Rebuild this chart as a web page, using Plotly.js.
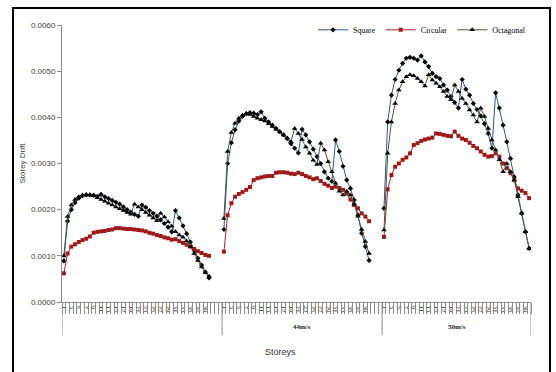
<!DOCTYPE html>
<html>
<head>
<meta charset="utf-8">
<script src="https://cdn.plot.ly/plotly-3.0.1.min.js"></script>
<style>
  html, body { margin: 0; padding: 0; background: #fff; }
  #chart { width: 556px; height: 372px; }
</style>
</head>
<body>
<div id="chart"></div>
<script>
// ---------- DATA ----------
const storeys = [1,2,3,4,5,6,7,8,9,10,11,12,13,14,15,16,17,18,19,20,21,22,23,24,25,26,27,28,29,30,31,32,33,34,35,36,37,38,39,40];
const groupLabels = ['', '44m/s', '50m/s'];
const seriesNames = ['Square', 'Circular', 'Octagonal'];

// group 1
const square1 = [0.00089,0.00175,0.00200,0.00215,0.00225,0.00230,0.00232,0.00232,0.00231,0.00229,0.00233,0.00228,0.00224,0.00220,0.00216,0.00212,0.00206,0.00200,0.00195,0.00190,0.00186,0.00210,0.00205,0.00198,0.00192,0.00186,0.00178,0.00170,0.00162,0.00152,0.00198,0.00182,0.00165,0.00148,0.00130,0.00112,0.00095,0.00080,0.00065,0.00052];
const circular1 = [0.00062,0.00105,0.00120,0.00125,0.00130,0.00134,0.00137,0.00142,0.00150,0.00152,0.00153,0.00154,0.00156,0.00157,0.00160,0.00160,0.00159,0.00158,0.00158,0.00157,0.00156,0.00155,0.00153,0.00150,0.00148,0.00145,0.00143,0.00140,0.00138,0.00135,0.00136,0.00132,0.00128,0.00124,0.00120,0.00115,0.00110,0.00106,0.00102,0.00100];
const octagonal1 = [0.00100,0.00185,0.00210,0.00222,0.00228,0.00232,0.00233,0.00232,0.00230,0.00226,0.00222,0.00218,0.00214,0.00210,0.00206,0.00202,0.00198,0.00194,0.00190,0.00212,0.00206,0.00200,0.00194,0.00188,0.00182,0.00176,0.00192,0.00184,0.00174,0.00164,0.00152,0.00145,0.00140,0.00132,0.00120,0.00105,0.00090,0.00076,0.00064,0.00056];

// group 2 (44m/s)
const square2 = [0.00157,0.00300,0.00345,0.00373,0.00392,0.00402,0.00408,0.00410,0.00409,0.00406,0.00412,0.00398,0.00390,0.00383,0.00376,0.00369,0.00362,0.00354,0.00343,0.00333,0.00323,0.00374,0.00362,0.00347,0.00331,0.00315,0.00300,0.00282,0.00268,0.00261,0.00351,0.00326,0.00294,0.00264,0.00246,0.00221,0.00188,0.00149,0.00120,0.00090];
const circular2 = [0.00109,0.00188,0.00214,0.00228,0.00234,0.00238,0.00243,0.00249,0.00264,0.00268,0.00270,0.00272,0.00273,0.00273,0.00280,0.00281,0.00281,0.00280,0.00278,0.00277,0.00280,0.00277,0.00273,0.00270,0.00266,0.00268,0.00262,0.00256,0.00252,0.00247,0.00250,0.00247,0.00243,0.00235,0.00222,0.00210,0.00203,0.00192,0.00185,0.00175];
const octagonal2 = [0.00181,0.00326,0.00367,0.00387,0.00398,0.00405,0.00408,0.00406,0.00402,0.00398,0.00395,0.00392,0.00386,0.00380,0.00374,0.00368,0.00362,0.00355,0.00347,0.00376,0.00365,0.00352,0.00336,0.00322,0.00307,0.00298,0.00344,0.00329,0.00304,0.00282,0.00257,0.00240,0.00232,0.00240,0.00232,0.00212,0.00186,0.00157,0.00131,0.00105];

// group 3 (50m/s)
const square3 = [0.00203,0.00390,0.00448,0.00482,0.00502,0.00517,0.00528,0.00530,0.00528,0.00524,0.00533,0.00520,0.00510,0.00495,0.00488,0.00484,0.00470,0.00459,0.00445,0.00432,0.00420,0.00482,0.00461,0.00448,0.00430,0.00417,0.00403,0.00386,0.00365,0.00333,0.00453,0.00420,0.00383,0.00347,0.00311,0.00271,0.00232,0.00192,0.00152,0.00116];
const circular3 = [0.00141,0.00244,0.00275,0.00293,0.00300,0.00308,0.00313,0.00322,0.00340,0.00344,0.00349,0.00352,0.00354,0.00356,0.00365,0.00364,0.00362,0.00360,0.00359,0.00369,0.00360,0.00354,0.00351,0.00345,0.00338,0.00333,0.00326,0.00319,0.00315,0.00316,0.00322,0.00315,0.00300,0.00290,0.00279,0.00264,0.00246,0.00241,0.00236,0.00225];
const octagonal3 = [0.00156,0.00322,0.00390,0.00430,0.00459,0.00477,0.00488,0.00492,0.00490,0.00484,0.00477,0.00468,0.00492,0.00481,0.00474,0.00466,0.00456,0.00445,0.00438,0.00470,0.00456,0.00441,0.00430,0.00416,0.00405,0.00390,0.00420,0.00402,0.00376,0.00351,0.00329,0.00308,0.00282,0.00300,0.00282,0.00264,0.00228,0.00192,0.00152,0.00116];

// ---------- LAYOUT HELPERS ----------
const slotsPerGroup = 43;           // 40 storeys + blank slots between groups
const lastGroupSlots = 40;
const groupOffsets = groupLabels.map((g, i) => i * slotsPerGroup);
const totalSlots = slotsPerGroup * (groupLabels.length - 1) + lastGroupSlots;
const xRange = [-0.5, totalSlots - 0.5];

function buildXY(groups) {
  const xs = [], ys = [];
  groups.forEach((vals, gi) => {
    storeys.forEach((s, si) => { xs.push(groupOffsets[gi] + s - 1); ys.push(vals[si]); });
    xs.push(null); ys.push(null);
  });
  return {x: xs, y: ys};
}

const sq = buildXY([square1, square2, square3]);
const ci = buildXY([circular1, circular2, circular3]);
const oc = buildXY([octagonal1, octagonal2, octagonal3]);

const traces = [
  {x: sq.x, y: sq.y, name: seriesNames[0], type: 'scatter', mode: 'lines+markers', connectgaps: false,
   line: {color: '#2f5597', width: 1}, marker: {symbol: 'diamond', size: 4, color: '#000'}},
  {x: ci.x, y: ci.y, name: seriesNames[1], type: 'scatter', mode: 'lines+markers', connectgaps: false,
   line: {color: '#b22222', width: 1}, marker: {symbol: 'square', size: 4, color: '#9c1a1a'}},
  {x: oc.x, y: oc.y, name: seriesNames[2], type: 'scatter', mode: 'lines+markers', connectgaps: false,
   line: {color: '#4b5a3a', width: 1}, marker: {symbol: 'triangle-up', size: 5, color: '#000'}},
  // empty helper trace so the overlay axis carrying the category-boundary ticks is drawn
  {x: [], y: [], xaxis: 'x2', yaxis: 'y', type: 'scatter', mode: 'markers', showlegend: false, hoverinfo: 'skip'}
];

// tick labels (every other storey)
const tickvals = [], ticktext = [];
groupOffsets.forEach(off => {
  storeys.forEach(s => { if (s % 2 === 1) { tickvals.push(off + s - 1); ticktext.push(String(s)); } });
});
const boundaries = [];
for (let i = 0; i <= totalSlots; i++) boundaries.push(i - 0.5);

const groupEdges = groupOffsets.map(o => o - 0.5).concat([totalSlots - 0.5]);
const shapes = groupEdges.map(e => ({
  type: 'line', xref: 'x', yref: 'paper', x0: e, x1: e, y0: 0, y1: -0.12,
  line: {color: '#8c8c8c', width: 1}
}));
// outer frame
shapes.push({type: 'rect', xref: 'paper', yref: 'paper', x0: -0.1045, x1: 1.0405, y0: -0.27, y1: 1.061,
  line: {color: '#000', width: 2}, fillcolor: 'rgba(0,0,0,0)'});

const annotations = groupLabels.map((g, i) => {
  const start = groupOffsets[i] - 0.5;
  const end = (i < groupLabels.length - 1) ? groupOffsets[i + 1] - 0.5 : totalSlots - 0.5;
  return {text: g ? '<b>' + g + '</b>' : '', xref: 'x', yref: 'paper', x: (start + end) / 2, y: -0.09, showarrow: false,
          font: {family: 'Liberation Serif', size: 7, color: '#222'}, xanchor: 'center', yanchor: 'middle'};
});
annotations.push({text: 'Storeys', xref: 'paper', yref: 'paper', x: 0.465, y: -0.18, showarrow: false,
  font: {family: 'Liberation Sans', size: 9, color: '#333'}, xanchor: 'center', yanchor: 'middle'});

const layout = {
  width: 556, height: 372,
  margin: {l: 62, r: 25, t: 25, b: 70},
  paper_bgcolor: '#fff', plot_bgcolor: '#fff',
  showlegend: true,
  legend: {orientation: 'h', x: 1.0, xanchor: 'right', y: 1.035, yanchor: 'top',
           font: {family: 'Liberation Serif', size: 8, color: '#000'}, bgcolor: 'rgba(0,0,0,0)',
           itemwidth: 30, tracegroupgap: 0},
  xaxis: {
    range: xRange, showgrid: false, zeroline: false,
    showline: true, linecolor: '#8c8c8c', linewidth: 1,
    tickmode: 'array', tickvals: tickvals, ticktext: ticktext, ticks: 'outside', ticklen: 1,
    tickcolor: 'rgba(0,0,0,0)', showticklabels: true, automargin: false,
    tickangle: 90, tickfont: {family: 'Liberation Serif', size: 7, color: '#222'}
  },
  xaxis2: {
    overlaying: 'x', range: xRange, showgrid: false, zeroline: false, showline: false,
    tickmode: 'array', tickvals: boundaries, ticks: 'outside', ticklen: 11,
    tickcolor: '#8c8c8c', tickwidth: 1, showticklabels: false, side: 'bottom'
  },
  yaxis: {
    range: [0, 0.006], dtick: 0.001, tick0: 0, tickformat: '.4f',
    showgrid: false, zeroline: false, showline: true, linecolor: '#8c8c8c', linewidth: 1,
    ticks: 'outside', ticklen: 4, tickcolor: '#8c8c8c',
    tickfont: {family: 'Liberation Sans', size: 8, color: '#404040'},
    title: {text: 'Storey Drift', font: {family: 'Liberation Sans', size: 8, color: '#404040'}, standoff: 4}
  },
  shapes: shapes,
  annotations: annotations
};

Plotly.newPlot('chart', traces, layout, {displayModeBar: false, staticPlot: true});
</script>
</body>
</html>
